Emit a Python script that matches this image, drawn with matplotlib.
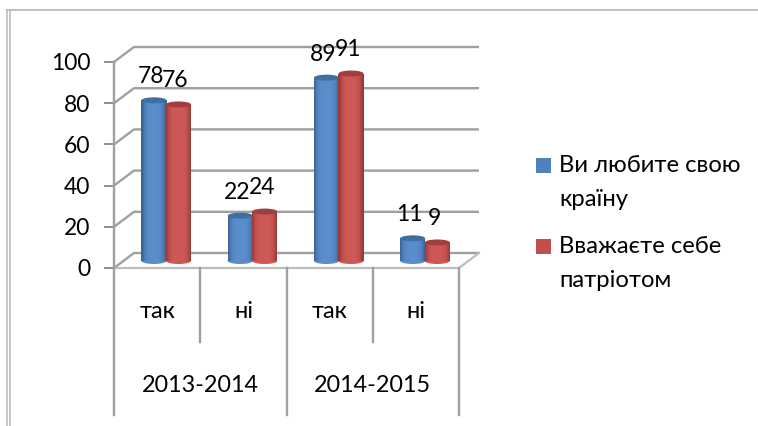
import numpy as np
import matplotlib
matplotlib.use("Agg")
import matplotlib.pyplot as plt
from matplotlib.patches import Ellipse, Patch
from matplotlib.lines import Line2D

plt.rcParams['font.family'] = ['Lato', 'Open Sans', 'DejaVu Sans']

categories = ['так', 'ні', 'так', 'ні']
years = ['2013-2014', '2014-2015']
series_names = ['Ви любите свою\nкраїну', 'Вважаєте себе\nпатріотом']
love = [78, 22, 89, 11]
patriot = [76, 24, 91, 9]
yticks = [0, 20, 40, 60, 80, 100]
blue, blue_mid, blue_dark, blue_top = '#4F81BD', '#5A8DCC', '#35608F', '#3F6F9F'
red, red_mid, red_dark, red_top = '#C0504D', '#CE5856', '#8F3735', '#A03F3D'

W, H = 758, 426
fig = plt.figure(figsize=(W/100, H/100), dpi=100)
L, R, T, B = 114, 459, 62, 268
ax = fig.add_axes([L/W, 1-B/H, (R-L)/W, (B-T)/H])
ax.set_xlim(0, 4); ax.set_ylim(0, 100)
ax.patch.set_alpha(0)
for s in ax.spines.values():
    s.set_visible(False)
ax.set_xticks([]); ax.set_yticks(yticks)
ax.tick_params(axis='y', length=7, width=1.4, color='#8C8C8C', pad=10, labelsize=16.5)

px = 4/(R-L); py = 100/(B-T)
dx, dy = 20*px, 15*py
grid = '#A0A0A0'
for v in yticks:
    ax.plot([0, dx, 4+dx], [v, v+dy, v+dy], color=grid, lw=1.7, clip_on=False, zorder=1,
            solid_capstyle='butt')
ax.plot([0, 4, 4+dx], [0, 0, dy], color='#BDBDBD', lw=1.6, clip_on=False, zorder=1)

# axis and multi-level category separators
yb_short = -(342-B)*py
yb_long = -(415-B)*py
ax.plot([0, 0], [yb_long, 100], color=grid, lw=1.7, clip_on=False, zorder=2)
for x, yb in zip([1, 2, 3, 4], [yb_short, yb_long, yb_short, yb_long]):
    ax.plot([x, x], [yb, 0], color=grid, lw=1.7, clip_on=False, zorder=2)

for i, c in enumerate(categories):
    ax.text(i+0.5, -(312-B)*py, c, ha='center', va='center', fontsize=17, clip_on=False)
for i, y in enumerate(years):
    ax.text(2*i+1, -(385-B)*py, y, ha='center', va='center', fontsize=16.8, clip_on=False)

# cylinders
w = 25*px
cx0 = (154-L)*px
cx1 = (178.5-L)*px
base = 7*py
eh = 6*py
strips = 24
def mix(a, b, t):
    a = np.array(matplotlib.colors.to_rgb(a)); b = np.array(matplotlib.colors.to_rgb(b))
    return a*(1-t)+b*t
def cyl(xc, v, col, dark, top, z):
    edges = np.linspace(-1, 1, strips+1)
    for a, b in zip(edges[:-1], edges[1:]):
        t = (a+b)/2
        shade = abs(t)**3.5
        c = mix(col, dark, min(shade, 1))
        ax.bar(xc+t*w/2, v, width=(b-a)*w/2*1.05, bottom=base, color=c, linewidth=0, zorder=z)
    ax.add_patch(Ellipse((xc, base), w, eh, color=col, lw=0, zorder=z-0.5, clip_on=False))
    ax.add_patch(Ellipse((xc, base+v), w, eh, color=top, lw=0, zorder=z+0.5))

for i in range(4):
    cx = i + cx0
    cyl(cx, love[i], blue_mid, blue_dark, blue_top, 3)
    cyl(i + cx1, patriot[i], red_mid, red_dark, red_top, 4)
    for xc, v in ((cx, love[i]), (i+cx1, patriot[i])):
        ax.annotate(str(v), (xc, base+v), xytext=(-2.2, 17), textcoords='offset points',
                    ha='center', va='center', fontsize=16.5, zorder=6, annotation_clip=False)

handles = [Patch(facecolor=blue), Patch(facecolor=red)]
leg = fig.legend(handles, series_names, loc='upper left', bbox_to_anchor=(536/W, 1-155/H),
                 frameon=False, fontsize=17.2, handlelength=0.63, handleheight=0.63,
                 handletextpad=0.35, labelspacing=1.1, borderpad=0, borderaxespad=0)
for t in leg.get_texts():
    t.set_linespacing(1.75)
# align the swatches with the first line of each label
for h in leg.get_patches():
    h.set_y(h.get_y() + 12.2)

# outer frame
fc = '#BFBFBF'
fig.add_artist(Line2D([7/W, 7/W], [0, 1-10/H], color=fc, lw=1.2))
fig.add_artist(Line2D([10/W, 10/W], [0, 1-10/H], color=fc, lw=1.2))
fig.add_artist(Line2D([7/W, 1], [1-10/H, 1-10/H], color=fc, lw=1.4))

fig.savefig('out.png', dpi=100)
